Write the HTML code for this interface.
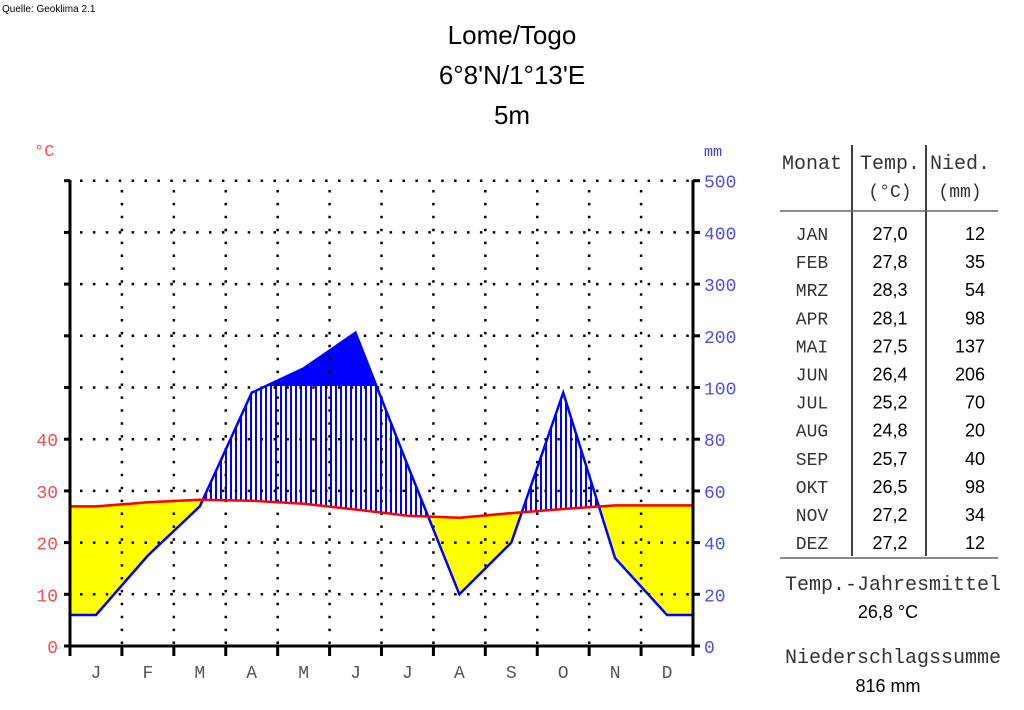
<!DOCTYPE html>
<html><head><meta charset="utf-8"><style>
body{margin:0;background:#fff;width:1024px;height:710px;overflow:hidden}
svg{display:block}
.mono{font-family:"Liberation Mono",monospace}
.sans{font-family:"Liberation Sans",sans-serif}
</style></head><body>
<svg id="chart" width="1024" height="710" viewBox="0 0 1024 710">
<defs>
<pattern id="hatch" patternUnits="userSpaceOnUse" width="5" height="10"><rect x="0" y="0" width="2" height="10" fill="#0000ff"/></pattern>
<clipPath id="clipAboveTemp"><polygon id="aboveTempPoly"/></clipPath>
<clipPath id="clipBelowPrec"><polygon id="belowPrecPoly"/></clipPath>
<clipPath id="clipUpper"><rect x="60" y="170" width="650" height="216"/></clipPath>
<clipPath id="clipLower"><rect x="60" y="386" width="650" height="270"/></clipPath>
</defs>
<text x="2" y="12" font-size="10" class="sans">Quelle: Geoklima 2.1</text>
<text x="512" y="44" font-size="26" text-anchor="middle" class="sans">Lome/Togo</text>
<text x="512" y="84" font-size="26" text-anchor="middle" class="sans">6°8'N/1°13'E</text>
<text x="512" y="124" font-size="26" text-anchor="middle" class="sans">5m</text>
<text x="34" y="156" font-size="17" fill="#f05050" class="mono">°C</text>
<text x="704" y="156" font-size="15" fill="#4040e0" class="mono">mm</text>
<g id="fills"></g>
<g id="grid"></g>
<g id="lines"></g>
<g id="axes"></g>
<g id="table"></g>
</svg>
<script>
const months=["J","F","M","A","M","J","J","A","S","O","N","D"];
const monthNames=["JAN","FEB","MRZ","APR","MAI","JUN","JUL","AUG","SEP","OKT","NOV","DEZ"];
const temps=[27.0,27.8,28.3,28.1,27.5,26.4,25.2,24.8,25.7,26.5,27.2,27.2];
const precip=[12,35,54,98,137,206,70,20,40,98,34,12];
const tempTicks=[0,10,20,30,40];
const precipTicks=[0,20,40,60,80,100,200,300,400,500];
const annualTemp="26,8 °C";
const annualPrecip="816 mm";

const NS="http://www.w3.org/2000/svg";
const X0=70,X1=693,Y0=646,U=51.7;
const mw=(X1-X0)/12;
function xm(i){return X0+mw*(i+0.5);}
function yT(t){return Y0-t/10*U;}
function yP(p){return p<=100?Y0-p/20*U:yT(50)-(p-100)/100*U;}
function el(tag,attrs,parent){const e=document.createElementNS(NS,tag);for(const k in attrs)e.setAttribute(k,attrs[k]);parent.appendChild(e);return e;}

// point lists
const tPts=[[X0,yT(temps[0])]],pPts=[[X0,yP(precip[0])]];
for(let i=0;i<12;i++){tPts.push([xm(i),yT(temps[i])]);pPts.push([xm(i),yP(precip[i])]);}
tPts.push([X1,yT(temps[11])]);pPts.push([X1,yP(precip[11])]);
const s=pts=>pts.map(p=>p[0].toFixed(1)+","+p[1].toFixed(1)).join(" ");
document.getElementById("aboveTempPoly").setAttribute("points",s(tPts)+` ${X1},150 ${X0},150`);
document.getElementById("belowPrecPoly").setAttribute("points",s(pPts)+` ${X1},${Y0} ${X0},${Y0}`);

const fills=document.getElementById("fills");
// yellow: below temp and above precip
const yg=el("g",{"clip-path":"url(#clipBelowPrec)"},fills);
const abovePrec=s(pPts)+` ${X1},150 ${X0},150`;
const yellow=el("polygon",{points:s(tPts)+` ${X1},${Y0} ${X0},${Y0}`,fill:"#ffff00"},fills);
yellow.setAttribute("clip-path","url(#clipAP)");
const defs=document.querySelector("defs");
const cap=el("clipPath",{id:"clipAP"},defs);el("polygon",{points:abovePrec},cap);
fills.removeChild(yg);


// hatch: precip above temp, below 100mm
const hg=el("g",{"clip-path":"url(#clipAboveTemp)"},fills);
const hatch=el("polygon",{points:s(pPts)+` ${X1},${Y0} ${X0},${Y0}`,fill:"url(#hatch)","clip-path":"url(#clipLower)"},hg);


const solid=el("polygon",{points:s(pPts)+` ${X1},${Y0} ${X0},${Y0}`,fill:"#0000ff","clip-path":"url(#clipUpper)"},fills);



// grid
const grid=document.getElementById("grid");
for(let i=1;i<12;i++){const x=X0+mw*i;const l=el("line",{x1:x,x2:x,y1:180,y2:Y0,stroke:"#000","stroke-width":2.5,"stroke-dasharray":"2.5 10.4","stroke-dashoffset":-10},grid);

}
for(let k=1;k<=9;k++){const y=Y0-k*U;const l=el("line",{x1:X0+10,x2:X1,y1:y,y2:y,stroke:"#000","stroke-width":2.5,"stroke-dasharray":"2.5 10.4"},grid);

}

// lines
const lines=document.getElementById("lines");
const pl=el("polyline",{points:s(pPts),fill:"none",stroke:"#0000ff","stroke-width":2.5},lines);


const tl=el("polyline",{points:s(tPts),fill:"none",stroke:"#ff0000","stroke-width":2.5},lines);



// axes
const axes=document.getElementById("axes");
const la=el("line",{x1:X0,x2:X0,y1:180,y2:Y0+10,stroke:"#000","stroke-width":3},axes);


const ra=el("line",{x1:X1,x2:X1,y1:180,y2:Y0+10,stroke:"#000","stroke-width":3},axes);


const ba=el("line",{x1:X0,x2:X1,y1:Y0,y2:Y0,stroke:"#000","stroke-width":3},axes);


for(let k=0;k<=9;k++){const y=Y0-k*U;
 el("line",{x1:X0-6,x2:X0,y1:y,y2:y,stroke:"#000","stroke-width":3},axes);
 el("line",{x1:X1,x2:X1+7,y1:y,y2:y,stroke:"#000","stroke-width":3},axes);}
for(let i=1;i<12;i++){const x=X0+mw*i;el("line",{x1:x,x2:x,y1:Y0,y2:Y0+10,stroke:"#000","stroke-width":3},axes);}
tempTicks.forEach(t=>{const tx=el("text",{x:58,y:yT(t)+7,"font-size":18,fill:"#f05050","text-anchor":"end",class:"mono"},axes);tx.textContent=t;

});
precipTicks.forEach(p=>{const tx=el("text",{x:704,y:yP(p)+7,"font-size":18,fill:"#5050e0",class:"mono"},axes);tx.textContent=p;

});
months.forEach((m,i)=>{const tx=el("text",{x:xm(i),y:678,"font-size":18,fill:"#555","text-anchor":"middle",class:"mono"},axes);tx.textContent=m;

});

// table
const tb=document.getElementById("table");
function txt(x,y,str,size,anchor,cls,name,fill){const t=el("text",{x:x,y:y,"font-size":size,"text-anchor":anchor,class:cls,fill:fill||"#000"},tb);t.textContent=str;

return t;}
txt(812,169,"Monat",20,"middle","mono","table-header-month","#333");
txt(890,169,"Temp.",20,"middle","mono","table-header-temp","#333");
txt(960,169,"Nied.",20,"middle","mono","table-header-precip","#333");
txt(890,197,"(°C)",18,"middle","mono","table-unit-temp","#333");
txt(960,197,"(mm)",18,"middle","mono","table-unit-precip","#333");
el("line",{x1:852,x2:852,y1:145,y2:556,stroke:"#000","stroke-width":1.5},tb);
el("line",{x1:926,x2:926,y1:145,y2:556,stroke:"#000","stroke-width":1.5},tb);
el("line",{x1:780,x2:998,y1:211,y2:211,stroke:"#666","stroke-width":1.5},tb);
el("line",{x1:780,x2:998,y1:558,y2:558,stroke:"#666","stroke-width":1.5},tb);
monthNames.forEach((m,i)=>{const y=240+i*28.1;
 txt(812,y,m,18,"middle","mono","table-month","#333");
 txt(890,y,temps[i].toFixed(1).replace(".",","),18,"middle","sans","table-temp");
 txt(985,y,String(precip[i]),18,"end","sans","table-precip");});
txt(893,590,"Temp.-Jahresmittel",20,"middle","mono","annual-temp-label","#333");
txt(888,618,annualTemp,18,"middle","sans","annual-temp-value");
txt(893,663,"Niederschlagssumme",20,"middle","mono","annual-precip-label","#333");
txt(888,692,annualPrecip,18,"middle","sans","annual-precip-value");
</script>
</body></html>
